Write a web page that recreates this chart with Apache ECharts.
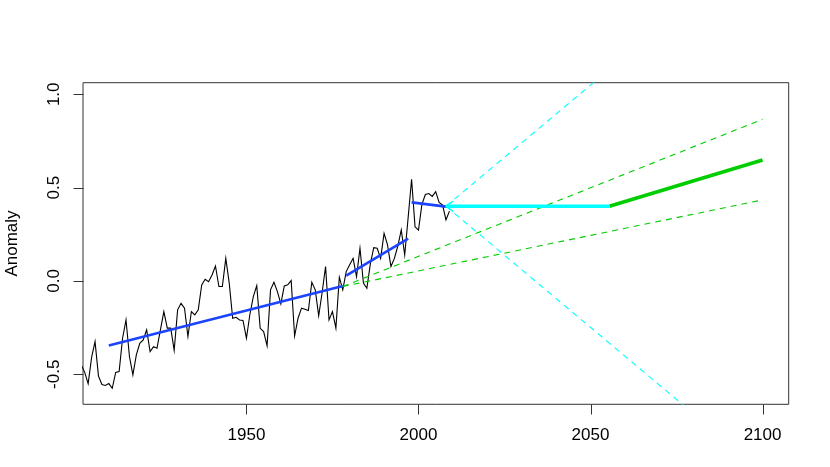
<!DOCTYPE html>
<html>
<head>
<meta charset="utf-8">
<script src="https://cdn.jsdelivr.net/npm/echarts@6/dist/echarts.min.js"></script>
<style>
html,body{margin:0;padding:0;background:#fff;}
#chart{width:830px;height:467px;}
</style>
</head>
<body>
<div id="chart"></div>
<script>
// Observed annual anomalies
const years = [];
for (let y = 1901; y <= 2009; y++) years.push(y);
const anomaly = [
  -0.36, -0.45, -0.49, -0.55, -0.41, -0.325, -0.51, -0.555, -0.56, -0.55,   // 1901-1910
  -0.575, -0.49, -0.485, -0.307, -0.209, -0.405, -0.503, -0.396, -0.334, -0.316, // 1911-1920
  -0.262, -0.378, -0.352, -0.361, -0.262, -0.164, -0.253, -0.253, -0.372, -0.155, // 1921-1930
  -0.120, -0.146, -0.298, -0.164, -0.182, -0.155, -0.021, 0.009, -0.004, 0.032,   // 1931-1940
  0.080, -0.030, -0.030, 0.121, -0.012, -0.200, -0.195, -0.209, -0.212, -0.307,   // 1941-1950
  -0.18, -0.084, -0.025, -0.254, -0.271, -0.348, -0.048, -0.007, -0.057, -0.123,  // 1951-1960
  -0.027, -0.021, 0.002, -0.295, -0.200, -0.146, -0.152, -0.159, -0.007, -0.048,  // 1961-1970
  -0.187, -0.062, 0.077, -0.209, -0.164, -0.253, 0.020, -0.048, 0.050, 0.086,     // 1971-1980
  0.121, 0.023, 0.175, -0.012, -0.039, 0.09, 0.178, 0.175, 0.121, 0.255,          // 1981-1990
  0.193, 0.077, 0.121, 0.187, 0.273, 0.139, 0.34, 0.545, 0.29, 0.272,             // 1991-2000
  0.41, 0.463, 0.468, 0.453, 0.478, 0.42, 0.406, 0.327, 0.374                     // 2001-2009
];

// Fitted trend segments (blue)
const trend1Years = [1910, 1978];
const trend1Values = [-0.346, -0.027];
const trend2Years = [1979, 1997];
const trend2Values = [0.029, 0.226];
const trend3Years = [1998, 2008];
const trend3Values = [0.421, 0.398];

// Green dashed projection envelope
const greenFanYears = [1978, 2100];
const greenUpperValues = [-0.03, 0.866];
const greenLowerValues = [-0.03, 0.434];

// Cyan dashed projection envelope
const cyanFanYears = [2008, 2100];
const cyanUpperValues = [0.40, 1.821];
const cyanLowerValues = [0.40, -1.021];

// Cyan flat arrow and green thick projection
const cyanFlatYears = [2055.5, 2008];
const cyanFlatValues = [0.40, 0.40];
const greenThickYears = [2055.5, 2100];
const greenThickValues = [0.40, 0.648];

// Axis ticks
const xTicks = [1950, 2000, 2050, 2100];
const yTicks = [-0.5, 0.0, 0.5, 1.0];

const X_MIN = 1902.5, X_MAX = 2107.6;
const Y_MIN = -0.661, Y_MAX = 1.062;

const pairs = (xs, ys) => xs.map((x, i) => [x, ys[i]]);

const FONT = "'Liberation Sans', Arial, Helvetica, sans-serif";
const BLUE = '#1a44ff';
const CYAN = '#00ffff';
const GREEN = '#00cd00';
const AXIS = '#333';
const TICK_LEN = 10;

function lineSeries(name, data, color, width, type, z) {
  return {
    name, type: 'line', data, symbol: 'none', clip: true, silent: true,
    animation: false, z: z,
    lineStyle: { color: color, width: width, type: type || 'solid',
                 cap: 'butt', join: 'miter' }
  };
}

// Tick marks drawn through the axis scales (outside the plot box)
function tickSeries(name, data, horizontal) {
  return {
    name, type: 'custom', data, silent: true, animation: false, clip: false, z: 1,
    renderItem: (params, api) => {
      const p = api.coord([api.value(0), api.value(1)]);
      const x = Math.round(p[0]) + 0.5, y = Math.round(p[1]) + 0.5;
      const shape = horizontal
        ? { x1: x - TICK_LEN, y1: y, x2: x, y2: y }
        : { x1: x, y1: y, x2: x, y2: y + TICK_LEN };
      return { type: 'line', shape, style: { stroke: AXIS, lineWidth: 1 } };
    }
  };
}

const arrowData = pairs(cyanFlatYears, cyanFlatValues).map((p, i) => i === 1 ? {
  value: p,
  symbol: 'path://M10,0 L0,5 L10,10',
  symbolSize: [7, 10],
  symbolOffset: [3.5, 0],
  itemStyle: { color: 'rgba(0,0,0,0)', borderColor: CYAN, borderWidth: 1.2 }
} : { value: p, symbol: 'none' });

const option = {
  animation: false,
  backgroundColor: '#fff',
  grid: {
    left: 83, right: 41.3, top: 82.7, bottom: 62.7,
    show: true, borderColor: AXIS, borderWidth: 1,
    backgroundColor: 'transparent',
    containLabel: false, outerBoundsMode: 'none'
  },
  xAxis: {
    type: 'value', min: X_MIN, max: X_MAX,
    splitLine: { show: false },
    axisLine: { show: false, onZero: false },
    axisTick: { show: false },
    axisLabel: { show: true, customValues: xTicks, margin: 23,
                 fontSize: 17, color: '#000', fontFamily: FONT,
                 formatter: v => String(Math.round(v)) }
  },
  yAxis: {
    type: 'value', min: Y_MIN, max: Y_MAX,
    name: 'Anomaly', nameLocation: 'middle', nameRotate: 90, nameGap: 62,
    nameTextStyle: { fontSize: 17, color: '#000', fontFamily: FONT },
    splitLine: { show: false },
    axisLine: { show: false, onZero: false },
    axisTick: { show: false },
    axisLabel: { show: true, customValues: yTicks, rotate: 90, margin: 20,
                 fontSize: 17, color: '#000', fontFamily: FONT,
                 formatter: v => v.toFixed(1) }
  },
  series: [
    tickSeries('xTicks', xTicks.map(v => [v, Y_MIN]), false),
    tickSeries('yTicks', yTicks.map(v => [X_MIN, v]), true),
    lineSeries('observed', pairs(years, anomaly), '#000', 1.1, 'solid', 2),
    lineSeries('trend1', pairs(trend1Years, trend1Values), BLUE, 2.6, 'solid', 3),
    lineSeries('trend2', pairs(trend2Years, trend2Values), BLUE, 2.6, 'solid', 3),
    lineSeries('trend3', pairs(trend3Years, trend3Values), BLUE, 2.6, 'solid', 3),
    lineSeries('greenUpper', pairs(greenFanYears, greenUpperValues), GREEN, 1.1, [6, 5], 4),
    lineSeries('greenLower', pairs(greenFanYears, greenLowerValues), GREEN, 1.1, [6, 5], 4),
    lineSeries('cyanUpper', pairs(cyanFanYears, cyanUpperValues), CYAN, 1.1, [6, 5], 4),
    lineSeries('cyanLower', pairs(cyanFanYears, cyanLowerValues), CYAN, 1.1, [6, 5], 4),
    lineSeries('greenThick', pairs(greenThickYears, greenThickValues), GREEN, 3.6, 'solid', 5),
    {
      name: 'cyanFlat', type: 'line', data: arrowData, clip: true, silent: true,
      animation: false, z: 6, showSymbol: true,
      lineStyle: { color: CYAN, width: 3.6, cap: 'butt' }
    }
  ]
};

const chart = echarts.init(document.getElementById('chart'), null, { renderer: 'canvas' });
chart.setOption(option);
</script>
</body>
</html>
